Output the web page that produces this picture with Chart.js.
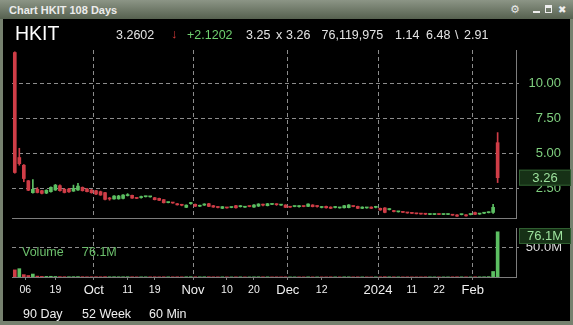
<!DOCTYPE html>
<html><head><meta charset="utf-8">
<script src="https://cdn.jsdelivr.net/npm/chart.js@4.4.1/dist/chart.umd.min.js"></script>
<style>
html,body{margin:0;padding:0;}
body{width:573px;height:325px;position:relative;overflow:hidden;background:#76816f;font-family:"Liberation Sans",Arial,sans-serif;}
#title{position:absolute;left:0;top:0;width:573px;height:19px;background:linear-gradient(#8c9586,#56614f);}
#panel{position:absolute;left:3px;top:19px;width:567px;height:302px;background:#000;}
.t{position:absolute;white-space:nowrap;}
canvas{position:absolute;left:0;}
</style></head>
<body>
<div id="title"></div>
<div id="panel"></div>
<div class="t" style="left:9px;top:3px;height:15px;line-height:15px;font-weight:bold;font-size:11px;color:#ececec;">Chart HKIT 108 Days</div>
<div class="t" style="left:510px;top:2px;height:16px;line-height:16px;font-size:11px;color:#e8e8e8;font-family:'DejaVu Sans';">⚙</div>
<div style="position:absolute;left:533px;top:11px;width:7px;height:2px;background:#eee;"></div>
<div style="position:absolute;left:545px;top:5px;width:5px;height:4px;border:1px solid #eee;border-top-width:3px;"></div>
<div class="t" style="left:558px;top:2px;height:16px;line-height:16px;font-size:10px;color:#eee;font-family:'DejaVu Sans';font-weight:bold;">✖</div>

<canvas id="pc" width="573" height="182" style="top:40px;width:573px;height:182px"></canvas>
<canvas id="vc" width="573" height="83" style="top:222px;width:573px;height:83px"></canvas>

<div id="hdr"></div>
<div class="t" id="volLbl" style="left:22px;top:244px;height:16px;line-height:16px;font-size:12.5px;color:#6cc06c;">Volume</div>
<div class="t" id="volVal" style="left:82px;top:244px;height:16px;line-height:16px;font-size:12.5px;color:#6cc06c;"></div>
<div class="t" style="left:23px;top:306px;height:16px;line-height:16px;font-size:12.5px;color:#f0f0f0;">90 Day</div>
<div class="t" style="left:82px;top:306px;height:16px;line-height:16px;font-size:12.5px;color:#f0f0f0;">52 Week</div>
<div class="t" style="left:149px;top:306px;height:16px;line-height:16px;font-size:12.5px;color:#f0f0f0;">60 Min</div>

<script>
// ---- data ----
const symbol = 'HKIT';
const lastPrice = '3.2602';
const netChange = '+2.1202';
const bidAsk = ['3.25', '3.26'];
const totalVolume = '76,119,975';
const prevClose = '1.14';
const dayHighLow = ['6.48', '2.91'];

const opens  = [12.20,4.70,4.15,3.04,2.19,2.43,2.33,2.16,2.26,2.38,2.69,2.43,2.45,2.30,2.38,2.57,2.45,2.38,
 2.33,2.26,2.19,1.76,1.74,1.75,1.78,1.98,2.00,1.80,1.84,1.90,1.89,1.83,1.78,1.69,1.48,1.47,1.40,1.31,1.14,1.41,
 1.36,1.22,1.30,1.40,1.26,1.15,1.07,1.12,1.13,1.26,1.19,1.15,1.22,1.16,1.23,1.32,1.26,1.35,1.35,1.30,1.31,
 1.17,1.20,1.19,1.22,1.21,1.31,1.22,1.13,1.21,1.16,1.13,1.10,1.11,1.12,1.22,1.21,1.07,1.10,1.16,1.14,
 1.07,1.10,0.98,0.90,0.82,0.80,0.75,0.72,0.70,0.67,0.66,0.63,0.63,0.65,0.63,0.63,0.60,0.60,0.62,0.61,0.63,
 0.77,0.66,0.72,0.76,0.78,5.76];
const highs  = [12.25,5.36,4.20,3.06,3.12,2.55,2.36,2.40,2.60,2.78,2.75,2.48,2.50,2.73,2.85,2.60,2.50,2.42,
 2.36,2.30,2.22,1.85,1.98,2.00,2.05,2.12,2.02,1.82,1.94,1.94,1.93,1.85,1.80,1.70,1.52,1.49,1.42,1.36,1.32,1.50,
 1.38,1.30,1.40,1.42,1.28,1.20,1.20,1.13,1.16,1.28,1.27,1.18,1.23,1.33,1.40,1.38,1.42,1.38,1.40,1.33,1.33,
 1.18,1.23,1.26,1.23,1.40,1.33,1.27,1.20,1.23,1.18,1.20,1.13,1.28,1.34,1.23,1.23,1.18,1.13,1.18,1.22,
 1.09,1.12,1.05,0.92,0.86,0.82,0.77,0.74,0.72,0.69,0.70,0.66,0.66,0.66,0.66,0.66,0.62,0.62,0.65,0.62,0.66,
 0.80,0.69,0.75,0.82,1.36,6.48];
const lows   = [3.58,4.15,2.97,2.33,2.15,2.17,2.10,2.12,2.22,2.35,2.30,2.17,2.20,2.28,2.35,2.30,2.24,2.15,
 2.05,2.00,1.68,1.65,1.72,1.72,1.75,1.95,1.78,1.76,1.80,1.88,1.87,1.67,1.62,1.45,1.46,1.43,1.30,1.25,1.12,1.36,
 1.20,1.20,1.28,1.19,1.14,1.10,1.05,1.08,1.11,1.09,1.16,1.14,1.18,1.14,1.20,1.25,1.24,1.33,1.28,1.28,1.12,
 1.13,1.18,1.16,1.18,1.19,1.17,1.15,1.10,1.09,1.05,1.10,1.08,1.09,1.10,1.18,1.05,1.05,1.08,1.05,1.10,
 0.93,0.75,0.95,0.82,0.80,0.77,0.72,0.70,0.67,0.65,0.62,0.62,0.62,0.62,0.62,0.62,0.57,0.49,0.60,0.51,0.60,
 0.62,0.64,0.69,0.74,0.70,2.91];
const closes = [3.63,4.26,3.20,2.36,2.43,2.20,2.14,2.36,2.57,2.73,2.33,2.20,2.25,2.50,2.66,2.33,2.26,2.19,
 2.09,2.02,1.71,1.74,1.95,1.95,2.02,2.02,1.80,1.78,1.87,1.92,1.91,1.69,1.64,1.47,1.50,1.45,1.32,1.29,1.30,1.43,
 1.22,1.28,1.38,1.21,1.16,1.13,1.19,1.10,1.15,1.11,1.21,1.17,1.20,1.31,1.38,1.30,1.40,1.37,1.33,1.32,1.14,
 1.15,1.22,1.21,1.20,1.38,1.19,1.20,1.15,1.11,1.07,1.15,1.12,1.26,1.31,1.20,1.07,1.16,1.12,1.07,1.16,
 0.95,0.78,1.00,0.84,0.84,0.78,0.74,0.71,0.68,0.66,0.65,0.65,0.65,0.63,0.65,0.65,0.58,0.51,0.64,0.53,0.65,
 0.64,0.68,0.74,0.80,1.14,3.26];
const volumes = [12.0,14.0,4.0,2.5,5.0,1.5,1.0,1.0,1.2,0.9,0.6,0.5,0.5,0.6,0.7,0.5,0.4,0.4,
 0.5,0.4,0.6,0.4,0.5,0.4,0.4,0.5,0.4,0.3,0.3,0.3,0.3,0.4,0.3,0.4,0.3,0.3,0.4,0.3,0.4,0.5,
 0.4,0.3,0.4,0.4,0.3,0.3,0.3,0.3,0.2,0.3,0.3,0.2,0.2,0.3,0.4,0.3,0.3,0.2,0.3,0.2,0.3,
 0.2,0.2,0.2,0.2,0.3,0.2,0.2,0.2,0.2,0.3,0.2,0.2,0.3,0.3,0.2,0.3,0.2,0.2,0.2,0.2,
 0.3,0.5,0.3,0.3,0.2,0.2,0.3,0.2,0.2,0.2,0.3,0.2,0.2,0.2,0.2,0.2,0.3,0.4,0.3,0.3,0.2,
 0.4,0.3,0.4,0.6,9.3,76.119975].map(v => v * 1e6);

const tickValues = [2.33, 9, 17.5, 25, 31, 39.5, 47, 53, 60.5, 68, 80.5, 88, 94, 101.5];
const tickLabels = ['06','19','Oct','11','19','Nov','10','20','Dec','12','2024','11','22','Feb'];
const monthLabels = ['Oct','Nov','Dec','2024','Feb'];
const priceTicks = [2.5, 5, 7.5, 10];
const volumeTicks = [50e6];

// ---- styles ----
const FAM = '"Liberation Sans", Arial, sans-serif';
const UP = '#5cbf62', DOWN = '#cf3d47';
const GRID = '#8c8c8c', AXIS = '#7d7d7d';
const isMonth = i => monthLabels.includes(tickLabels[i]);

// header
const hdr = document.getElementById('hdr');
function put(txt, left, cy, size, color){
  const d = document.createElement('div'); d.className='t';
  d.textContent = txt;
  d.style.cssText = `left:${left}px;top:${cy-8}px;height:16px;line-height:16px;font-size:${size}px;color:${color};`;
  hdr.appendChild(d);
}
put(symbol, 15, 33, 19.5, '#ffffff');
put(lastPrice, 116, 34.5, 12.5, '#e4e4e4');
put('↓', 171, 34, 13, '#d83a3a');
put(netChange, 187, 34.5, 12.5, '#6fcf6f');
put(bidAsk[0], 246, 34.5, 12.5, '#e4e4e4');
put('x', 276, 34.5, 12.5, '#e4e4e4');
put(bidAsk[1], 286, 34.5, 12.5, '#e4e4e4');
put(totalVolume, 321.5, 34.5, 12.5, '#e4e4e4');
put(prevClose, 395, 34.5, 12.5, '#e4e4e4');
put(dayHighLow[0], 426, 34.5, 12.5, '#e4e4e4');
put('\\', 455, 34.5, 12.5, '#e4e4e4');
put(dayHighLow[1], 464, 34.5, 12.5, '#e4e4e4');

const lastVol = volumes[volumes.length-1];
document.getElementById('volVal').textContent = (lastVol/1e6).toFixed(1) + 'M';

const idx = opens.map((_, i) => i);
const candleColor = idx.map(i => closes[i] >= opens[i] ? UP : DOWN);
const volColor = idx.map(i => i === 0 ? DOWN : (closes[i] >= closes[i-1] ? UP : DOWN));

const X_MIN = -0.62, X_MAX = 111.07;
const noPad = s => { s.paddingTop = 0; s.paddingBottom = 0; s.paddingLeft = 0; s.paddingRight = 0; };

function xScale(showTicks) {
  return {
    type: 'linear', min: X_MIN, max: X_MAX, offset: false,
    afterBuildTicks: s => { s.ticks = tickValues.map(v => ({ value: v })); },
    afterFit: s => { s.height = showTicks ? 28 : 0; noPad(s); },
    grid: {
      offset: false,
      color: c => isMonth(c.index) ? GRID : 'rgba(0,0,0,0)',
      drawTicks: showTicks, tickLength: 3, tickColor: AXIS, lineWidth: 1
    },
    border: { display: true, color: AXIS, dash: [4, 3] },
    ticks: {
      display: showTicks, autoSkip: false, maxRotation: 0, padding: 2,
      color: '#f0f0f0',
      font: c => ({ family: FAM, size: isMonth(c.index) ? 13 : 10.5, lineHeight: '16px' }),
      callback: (v, i) => tickLabels[i]
    }
  };
}

function valueBox(value, text) {
  return {
    id: 'box',
    afterDraw(chart) {
      const { ctx, chartArea, scales } = chart;
      const y = scales.y.getPixelForValue(value);
      const h = 16;
      const top = Math.max(chartArea.top, y - h / 2);
      const left = chartArea.right + 3;
      const right = chart.width - 2;
      ctx.save();
      ctx.fillStyle = '#163116';
      ctx.strokeStyle = '#2f5e30';
      ctx.lineWidth = 1;
      ctx.fillRect(left, top, right - left, h);
      ctx.strokeRect(left + 0.5, top + 0.5, right - left - 1, h - 1);
      ctx.fillStyle = '#9ee29e';
      ctx.font = '13px ' + FAM;
      ctx.textAlign = 'center';
      ctx.textBaseline = 'middle';
      ctx.fillText(text, (left + right) / 2, top + h / 2 + 0.5);
      ctx.restore();
    }
  };
}

new Chart(document.getElementById('pc'), {
  type: 'bar',
  data: {
    datasets: [
      { data: idx.map(i => ({ x: i, y: [lows[i], highs[i]] })), backgroundColor: candleColor,
        barThickness: 1, grouped: false, order: 2 },
      { data: idx.map(i => ({ x: i, y: [opens[i], closes[i]] })), backgroundColor: candleColor,
        barThickness: 3, minBarLength: 1, grouped: false, order: 1 }
    ]
  },
  options: {
    responsive: false, animation: false, events: [],
    layout: { autoPadding: false, padding: { left: 12, top: 10, right: 12, bottom: 4 } },
    plugins: { legend: { display: false }, tooltip: { enabled: false } },
    scales: {
      x: xScale(false),
      y: {
        position: 'right', min: 0.38, max: 12.38,
        afterBuildTicks: s => { s.ticks = priceTicks.map(v => ({ value: v })); },
        afterFit: s => { s.width = 45; noPad(s); },
        grid: { color: GRID, tickLength: 3, tickColor: GRID, lineWidth: 1 },
        border: { display: true, color: AXIS, dash: [4, 3] },
        ticks: { color: '#7fcf7f', font: { family: FAM, size: 13 }, padding: 0, crossAlign: 'far',
                 callback: v => Number(v).toFixed(2) }
      }
    }
  },
  plugins: [valueBox(closes[closes.length-1], closes[closes.length-1].toFixed(2))]
});

new Chart(document.getElementById('vc'), {
  type: 'bar',
  data: {
    datasets: [
      { data: idx.map(i => ({ x: i, y: volumes[i] })), backgroundColor: volColor, barThickness: 3 }
    ]
  },
  options: {
    responsive: false, animation: false, events: [],
    layout: { autoPadding: false, padding: { left: 12, top: 6, right: 11, bottom: 0 } },
    plugins: { legend: { display: false }, tooltip: { enabled: false } },
    scales: {
      x: xScale(true),
      y: {
        position: 'right', min: 0, max: 82.5e6,
        afterBuildTicks: s => { s.ticks = volumeTicks.map(v => ({ value: v })); },
        afterFit: s => { s.width = 46; noPad(s); },
        grid: { color: GRID, tickLength: 3, tickColor: GRID, lineWidth: 1 },
        border: { display: true, color: AXIS, dash: [4, 3] },
        ticks: { color: '#dcdcdc', font: { family: FAM, size: 13 }, padding: 0, crossAlign: 'far',
                 callback: v => (v / 1e6).toFixed(1) + 'M' }
      }
    }
  },
  plugins: [valueBox(lastVol, (lastVol/1e6).toFixed(1) + 'M')]
});
</script>
</body></html>
